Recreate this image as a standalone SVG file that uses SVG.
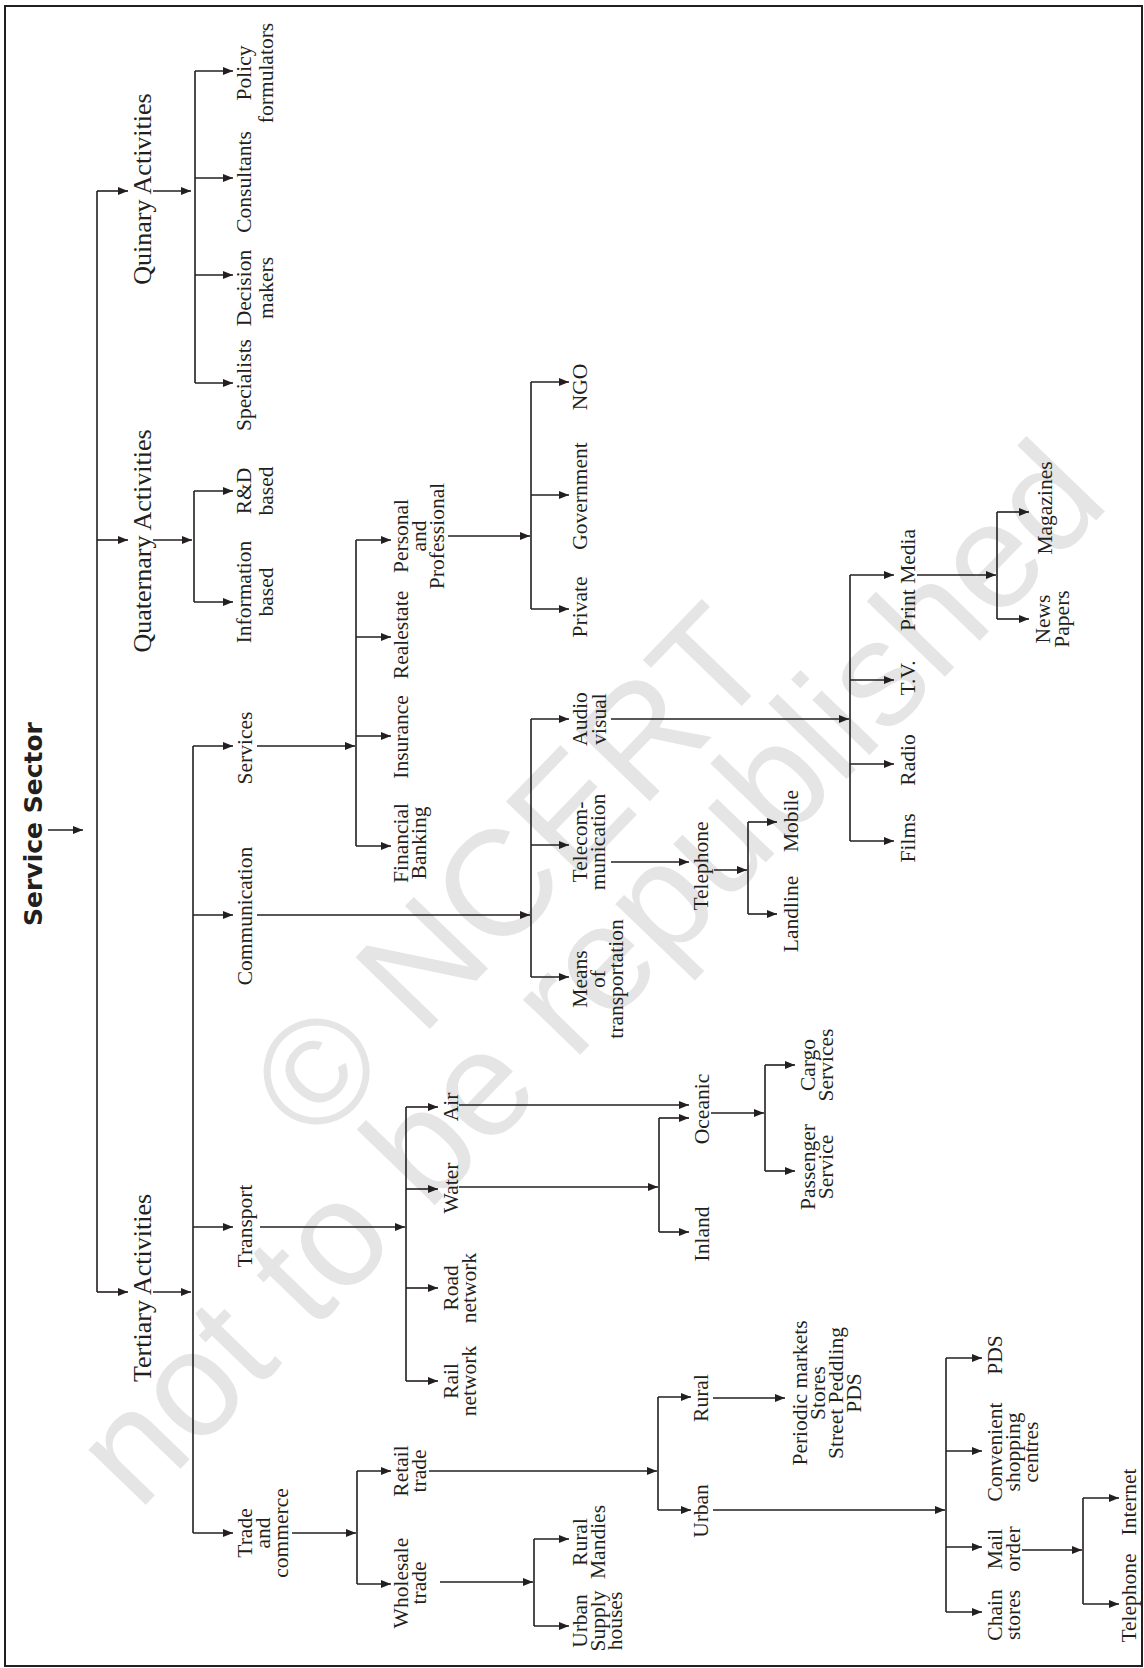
<svg xmlns="http://www.w3.org/2000/svg" width="1144" height="1668" viewBox="0 0 1144 1668">
<defs>
<marker id="ah" markerUnits="userSpaceOnUse" markerWidth="11" markerHeight="8" refX="10" refY="4" orient="auto">
<path d="M0,0 L10,4 L0,8 z" fill="#231f20"/>
</marker>
<style>
.t{font-family:"Liberation Serif","Times New Roman",serif;font-size:21.5px;fill:#231f20;text-anchor:middle}
.h{font-size:26px}
.ti{font-family:"DejaVu Sans",sans-serif;font-weight:bold;font-size:25px;fill:#231f20;text-anchor:middle}
.wm{font-family:"Liberation Sans",Arial,sans-serif;font-size:150px;fill:#e5e5e5;text-anchor:middle}
#conn path{stroke:#231f20;stroke-width:1.6;fill:none}
#conn path.a{marker-end:url(#ah)}
</style>
</defs>
<rect x="0" y="0" width="1144" height="1668" fill="#fff"/>
<g id="watermark" transform="translate(586,958) rotate(-46)">
<text class="wm" x="9" y="-63">© NCERT</text>
<text class="wm" x="-9" y="63">not to be republished</text>
</g>
<rect x="5" y="6" width="1137" height="1660" fill="none" stroke="#231f20" stroke-width="2"/>
<g id="conn">
<path class="a" d="M48,830 H83"/>
<path d="M97,191 V1292"/>
<path class="a" d="M97,191 H128"/>
<path class="a" d="M97,540 H128"/>
<path class="a" d="M97,1292 H128"/>
<path class="a" d="M153,191 H191"/>
<path class="a" d="M153,540 H192"/>
<path class="a" d="M153,1292 H191"/>
<path d="M195,71 V383"/>
<path class="a" d="M195,71 H233"/>
<path class="a" d="M195,178 H233"/>
<path class="a" d="M195,275 H233"/>
<path class="a" d="M195,383 H233"/>
<path d="M194,491 V602"/>
<path class="a" d="M194,491 H233"/>
<path class="a" d="M194,602 H233"/>
<path d="M193,746 V1533"/>
<path class="a" d="M193,746 H233"/>
<path class="a" d="M193,915 H233"/>
<path class="a" d="M193,1227 H233"/>
<path class="a" d="M193,1533 H233"/>
<path class="a" d="M257,746 H355"/>
<path d="M356,540 V846"/>
<path class="a" d="M356,540 H391"/>
<path class="a" d="M356,637 H391"/>
<path class="a" d="M356,736 H391"/>
<path class="a" d="M356,846 H391"/>
<path class="a" d="M448,536 H530"/>
<path d="M531,382 V609"/>
<path class="a" d="M531,382 H569"/>
<path class="a" d="M531,495 H569"/>
<path class="a" d="M531,609 H569"/>
<path class="a" d="M257,915 H530"/>
<path d="M531,719 V977"/>
<path class="a" d="M531,719 H569"/>
<path class="a" d="M531,845 H569"/>
<path class="a" d="M531,977 H569"/>
<path class="a" d="M611,862 H689"/>
<path class="a" d="M714,870 H747"/>
<path d="M748,822 V914"/>
<path class="a" d="M748,822 H777"/>
<path class="a" d="M748,914 H777"/>
<path class="a" d="M611,719 H849"/>
<path d="M850,575 V841"/>
<path class="a" d="M850,575 H894"/>
<path class="a" d="M850,680 H894"/>
<path class="a" d="M850,764 H894"/>
<path class="a" d="M850,841 H894"/>
<path class="a" d="M917,575 H996"/>
<path d="M997,512 V619"/>
<path class="a" d="M997,512 H1029"/>
<path class="a" d="M997,619 H1029"/>
<path class="a" d="M260,1227 H405"/>
<path d="M406,1107 V1381"/>
<path class="a" d="M406,1107 H438"/>
<path class="a" d="M406,1189 H438"/>
<path class="a" d="M406,1288 H438"/>
<path class="a" d="M406,1381 H438"/>
<path class="a" d="M459,1105 H689"/>
<path class="a" d="M459,1187 H658"/>
<path d="M659,1118 V1232"/>
<path class="a" d="M659,1118 H689"/>
<path class="a" d="M659,1232 H689"/>
<path class="a" d="M711,1113 H764"/>
<path d="M765,1065 V1171"/>
<path class="a" d="M765,1065 H795"/>
<path class="a" d="M765,1171 H795"/>
<path class="a" d="M292,1533 H356"/>
<path d="M357,1471 V1584"/>
<path class="a" d="M357,1471 H391"/>
<path class="a" d="M357,1584 H391"/>
<path class="a" d="M429,1471 H657"/>
<path d="M658,1397 V1510"/>
<path class="a" d="M658,1397 H691"/>
<path class="a" d="M658,1510 H691"/>
<path class="a" d="M713,1398 H785"/>
<path class="a" d="M713,1510 H945"/>
<path d="M946,1358 V1612"/>
<path class="a" d="M946,1358 H982"/>
<path class="a" d="M946,1451 H982"/>
<path class="a" d="M946,1547 H982"/>
<path class="a" d="M946,1612 H982"/>
<path class="a" d="M1022,1550 H1082"/>
<path d="M1083,1498 V1604"/>
<path class="a" d="M1083,1498 H1119"/>
<path class="a" d="M1083,1604 H1119"/>
<path class="a" d="M440,1582 H533"/>
<path d="M534,1539 V1626"/>
<path class="a" d="M534,1539 H569"/>
<path class="a" d="M534,1626 H569"/>
</g>
<g id="n-title"><text class="ti" transform="translate(42,824) rotate(-90)">Service Sector</text></g>
<g id="n-quinary"><text class="t h" transform="translate(151,189) rotate(-90)">Quinary Activities</text></g>
<g id="n-quaternary"><text class="t h" transform="translate(151,541) rotate(-90)">Quaternary Activities</text></g>
<g id="n-tertiary"><text class="t h" transform="translate(151,1288) rotate(-90)">Tertiary Activities</text></g>
<g id="n-policy"><text class="t" transform="translate(251,73) rotate(-90)"><tspan x="0" y="0">Policy</tspan><tspan x="0" dy="22">formulators</tspan></text></g>
<g id="n-consultants"><text class="t" transform="translate(251,182) rotate(-90)">Consultants</text></g>
<g id="n-decision"><text class="t" transform="translate(251,288) rotate(-90)"><tspan x="0" y="0">Decision</tspan><tspan x="0" dy="22">makers</tspan></text></g>
<g id="n-specialists"><text class="t" transform="translate(251,385) rotate(-90)">Specialists</text></g>
<g id="n-rnd"><text class="t" transform="translate(251,491) rotate(-90)"><tspan x="0" y="0">R&amp;D</tspan><tspan x="0" dy="22">based</tspan></text></g>
<g id="n-info"><text class="t" transform="translate(251,592) rotate(-90)"><tspan x="0" y="0">Information</tspan><tspan x="0" dy="22">based</tspan></text></g>
<g id="n-services"><text class="t" transform="translate(252,748) rotate(-90)">Services</text></g>
<g id="n-communication"><text class="t" transform="translate(252,916) rotate(-90)">Communication</text></g>
<g id="n-transport"><text class="t" transform="translate(252,1226) rotate(-90)">Transport</text></g>
<g id="n-trade"><text class="t" transform="translate(252,1533) rotate(-90)"><tspan x="0" y="0">Trade</tspan><tspan x="0" dy="18">and</tspan><tspan x="0" dy="18">commerce</tspan></text></g>
<g id="n-financial"><text class="t" transform="translate(408,843) rotate(-90)"><tspan x="0" y="0">Financial</tspan><tspan x="0" dy="18">Banking</tspan></text></g>
<g id="n-insurance"><text class="t" transform="translate(408,737) rotate(-90)">Insurance</text></g>
<g id="n-realestate"><text class="t" transform="translate(408,635) rotate(-90)">Realestate</text></g>
<g id="n-personal"><text class="t" transform="translate(408,536) rotate(-90)"><tspan x="0" y="0">Personal</tspan><tspan x="0" dy="18">and</tspan><tspan x="0" dy="18">Professional</tspan></text></g>
<g id="n-ngo"><text class="t" transform="translate(587,387) rotate(-90)">NGO</text></g>
<g id="n-government"><text class="t" transform="translate(587,496) rotate(-90)">Government</text></g>
<g id="n-private"><text class="t" transform="translate(587,607) rotate(-90)">Private</text></g>
<g id="n-audio"><text class="t" transform="translate(587,719) rotate(-90)"><tspan x="0" y="0">Audio</tspan><tspan x="0" dy="19">visual</tspan></text></g>
<g id="n-telecom"><text class="t" transform="translate(587,842) rotate(-90)"><tspan x="0" y="0">Telecom-</tspan><tspan x="0" dy="18">munication</tspan></text></g>
<g id="n-means"><text class="t" transform="translate(587,979) rotate(-90)"><tspan x="0" y="0">Means</tspan><tspan x="0" dy="18">of</tspan><tspan x="0" dy="18">transportation</tspan></text></g>
<g id="n-telephone"><text class="t" transform="translate(708,866) rotate(-90)">Telephone</text></g>
<g id="n-mobile"><text class="t" transform="translate(798,821) rotate(-90)">Mobile</text></g>
<g id="n-landline"><text class="t" transform="translate(798,914) rotate(-90)">Landline</text></g>
<g id="n-print"><text class="t" transform="translate(915,580) rotate(-90)">Print Media</text></g>
<g id="n-tv"><text class="t" transform="translate(915,678) rotate(-90)">T.V.</text></g>
<g id="n-radio"><text class="t" transform="translate(915,760) rotate(-90)">Radio</text></g>
<g id="n-films"><text class="t" transform="translate(915,838) rotate(-90)">Films</text></g>
<g id="n-magazines"><text class="t" transform="translate(1052,508) rotate(-90)">Magazines</text></g>
<g id="n-news"><text class="t" transform="translate(1050,619) rotate(-90)"><tspan x="0" y="0">News</tspan><tspan x="0" dy="19">Papers</tspan></text></g>
<g id="n-air"><text class="t" transform="translate(458,1107) rotate(-90)">Air</text></g>
<g id="n-water"><text class="t" transform="translate(458,1188) rotate(-90)">Water</text></g>
<g id="n-road"><text class="t" transform="translate(458,1288) rotate(-90)"><tspan x="0" y="0">Road</tspan><tspan x="0" dy="18">network</tspan></text></g>
<g id="n-rail"><text class="t" transform="translate(458,1381) rotate(-90)"><tspan x="0" y="0">Rail</tspan><tspan x="0" dy="18">network</tspan></text></g>
<g id="n-oceanic"><text class="t" transform="translate(709,1109) rotate(-90)">Oceanic</text></g>
<g id="n-inland"><text class="t" transform="translate(709,1234) rotate(-90)">Inland</text></g>
<g id="n-cargo"><text class="t" transform="translate(815,1065) rotate(-90)"><tspan x="0" y="0">Cargo</tspan><tspan x="0" dy="18">Services</tspan></text></g>
<g id="n-passenger"><text class="t" transform="translate(815,1167) rotate(-90)"><tspan x="0" y="0">Passenger</tspan><tspan x="0" dy="18">Service</tspan></text></g>
<g id="n-retail"><text class="t" transform="translate(408,1471) rotate(-90)"><tspan x="0" y="0">Retail</tspan><tspan x="0" dy="18">trade</tspan></text></g>
<g id="n-wholesale"><text class="t" transform="translate(408,1583) rotate(-90)"><tspan x="0" y="0">Wholesale</tspan><tspan x="0" dy="18">trade</tspan></text></g>
<g id="n-rural"><text class="t" transform="translate(708,1398) rotate(-90)">Rural</text></g>
<g id="n-urban"><text class="t" transform="translate(708,1511) rotate(-90)">Urban</text></g>
<g id="n-periodic"><text class="t" transform="translate(807,1393) rotate(-90)"><tspan x="0" y="0">Periodic markets</tspan><tspan x="0" dy="18">Stores</tspan><tspan x="0" dy="18">Street Peddling</tspan><tspan x="0" dy="18">PDS</tspan></text></g>
<g id="n-pds"><text class="t" transform="translate(1002,1355) rotate(-90)">PDS</text></g>
<g id="n-convenient"><text class="t" transform="translate(1002,1452) rotate(-90)"><tspan x="0" y="0">Convenient</tspan><tspan x="0" dy="18">shopping</tspan><tspan x="0" dy="18">centres</tspan></text></g>
<g id="n-mail"><text class="t" transform="translate(1002,1549) rotate(-90)"><tspan x="0" y="0">Mail</tspan><tspan x="0" dy="18">order</tspan></text></g>
<g id="n-chain"><text class="t" transform="translate(1002,1615) rotate(-90)"><tspan x="0" y="0">Chain</tspan><tspan x="0" dy="18">stores</tspan></text></g>
<g id="n-internet"><text class="t" transform="translate(1136,1502) rotate(-90)">Internet</text></g>
<g id="n-telephone2"><text class="t" transform="translate(1136,1598) rotate(-90)">Telephone</text></g>
<g id="n-mandies"><text class="t" transform="translate(587,1542) rotate(-90)"><tspan x="0" y="0">Rural</tspan><tspan x="0" dy="18">Mandies</tspan></text></g>
<g id="n-urbansupply"><text class="t" transform="translate(587,1621) rotate(-90)"><tspan x="0" y="0">Urban</tspan><tspan x="0" dy="18">Supply</tspan><tspan x="0" dy="17">houses</tspan></text></g>
</svg>
